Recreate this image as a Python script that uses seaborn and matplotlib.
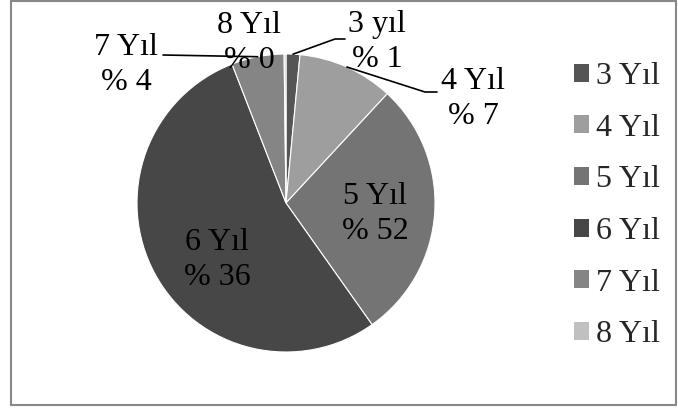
import numpy as np
import matplotlib
matplotlib.use("Agg")
import matplotlib.pyplot as plt
from matplotlib.patches import Rectangle, Patch
import seaborn as sns

# data (slice sizes,
# percentage texts copied as printed on the chart)
categories = ["3 Yıl", "4 Yıl", "5 Yıl", "6 Yıl", "7 Yıl", "8 Yıl"]
shares = [1.5, 10.4, 28.3, 53.9, 5.7, 0.2]
slice_names = ["3 yıl", "4 Yıl", "5 Yıl", "6 Yıl", "7 Yıl", "8 Yıl"]
pct_labels = ["% 1", "% 7", "% 52", "% 36", "% 4", "% 0"]
colors = ["#555555", "#9e9e9e", "#747474", "#474747", "#858585", "#c0c0c0"]

W, H = 678, 408
CX, CY, R = 286, 203, 149  # pie centre / radius in pixels

sns.set_style("white")
plt.rcParams["font.family"] = ["Liberation Serif", "DejaVu Serif"]
FS = 23


def to_data(px, py):
    return (px - CX) / R, (CY - py) / R


fig = plt.figure(figsize=(W / 100, H / 100), dpi=100)
ax = fig.add_axes([(CX - R) / W, (H - CY - R) / H, 2 * R / W, 2 * R / H])

wedges, _ = ax.pie(shares, colors=colors, startangle=90, counterclock=False,
                   wedgeprops=dict(edgecolor="white", linewidth=0.8))
ax.set_xlim(-1, 1)
ax.set_ylim(-1, 1)
ax.set_aspect("auto")
ax.axis("off")

# label block centres (pixels)
label_pos = [(377, 42), (473, 99), (375, 214), (217, 260), (126, 65), (249, 43)]
for name, pct, (px, py) in zip(slice_names, pct_labels, label_pos):
    x, y = to_data(px, py)
    ax.text(x, y, f"{name}\n{pct}", ha="center", va="center", fontsize=FS,
            linespacing=1.25, color="black", clip_on=False)


def edge_point(w):
    ang = np.deg2rad((w.theta1 + w.theta2) / 2)
    return np.cos(ang), np.sin(ang)


# leader lines: wedge edge -> bend -> end (pixels for bends)
leaders = {0: [(335, 39), (345, 39)], 1: [(425, 92), (437, 92)], 4: [(163, 55)]}
for idx, pts in leaders.items():
    x0, y0 = edge_point(wedges[idx])
    xs = [x0] + [to_data(*p)[0] for p in pts]
    ys = [y0] + [to_data(*p)[1] for p in pts]
    ax.plot(xs, ys, color="black", lw=1.2, clip_on=False)

handles = [Patch(facecolor=c, edgecolor="none") for c in colors]
fig.legend(handles, categories, loc="upper left",
           bbox_to_anchor=(574 / W, 1 - 62 / H), frameon=False,
           fontsize=FS, handlelength=0.48, handleheight=0.48,
           handletextpad=0.2, labelspacing=0.71, borderpad=0, borderaxespad=0)

fig.patches.append(Rectangle((11 / W, 3 / H), (676 - 11) / W, (407 - 3) / H,
                             transform=fig.transFigure, fill=False,
                             edgecolor="#888888", lw=1.5))

fig.savefig("out.png", dpi=100)
